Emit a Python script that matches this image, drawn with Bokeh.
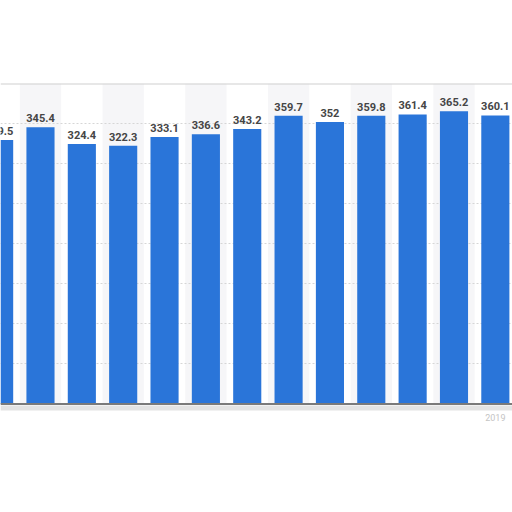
from bokeh.plotting import figure
from bokeh.models import Range1d, Grid, SingleIntervalTicker, Span, ColumnDataSource
from bokeh.embed import file_html
from bokeh.resources import INLINE
from bokeh.core.properties import value

years = [2007, 2008, 2009, 2010, 2011, 2012, 2013, 2014, 2015, 2016, 2017, 2018, 2019]
values = [329.5, 345.4, 324.4, 322.3, 333.1, 336.6, 343.2, 359.7, 352, 359.8, 361.4, 365.2, 360.1]
labels = ["329.5", "345.4", "324.4", "322.3", "333.1", "336.6", "343.2", "359.7", "352", "359.8", "361.4", "365.2", "360.1"]
shown_year_labels = [2019]
y_max = 400

p = figure(width=512, height=512, output_backend="svg", toolbar_location=None,
           x_axis_type=None, y_axis_type=None,
           x_range=Range1d(2007.033, 2019.415), y_range=Range1d(-22, y_max),
           min_border_left=0, min_border_right=0, min_border_top=83, min_border_bottom=91)
p.outline_line_color = None
p.background_fill_color = "white"
p.border_fill_color = "white"

# alternating column bands
band_x = [y for y in years if y % 2 == 0]
p.quad(left=[b - 0.5 for b in band_x], right=[b + 0.5 for b in band_x],
       bottom=0, top=y_max, fill_color="#f6f6f8", line_color=None, level="image")

grid = Grid(dimension=1, ticker=SingleIntervalTicker(interval=50),
            grid_line_color="#d6d6d6", grid_line_dash="2 2", grid_line_width=1)
p.add_layout(grid)

src = ColumnDataSource(dict(x=years, top=values, label=labels))
p.vbar(x="x", top="top", bottom=0, width=0.68, source=src,
       fill_color="#2a75d9", line_color=None)

p.text(x="x", y="top", text="label", source=src, text_align="center",
       text_baseline="bottom", y_offset=-5, text_font=value("Roboto"),
       text_font_style="bold", text_font_size="11px", text_color="#454545")

# top border of the chart box
p.add_layout(Span(location=y_max, dimension="width", line_color="#cfcfcf", line_width=2))
# soft shadow under the baseline
p.add_layout(Span(location=-5, dimension="width", line_color="#dcdcdc", line_width=5, line_alpha=0.8))
# baseline
p.add_layout(Span(location=0, dimension="width", line_color="#7a7a7a", line_width=2))

p.text(x=shown_year_labels, y=[0] * len(shown_year_labels), text=[str(y) for y in shown_year_labels],
       text_align="center", text_baseline="top", y_offset=10,
       text_font=value("Roboto"), text_font_size="9px", text_color="#c4c4c4")

open("out.html", "w").write(file_html(p, INLINE))
